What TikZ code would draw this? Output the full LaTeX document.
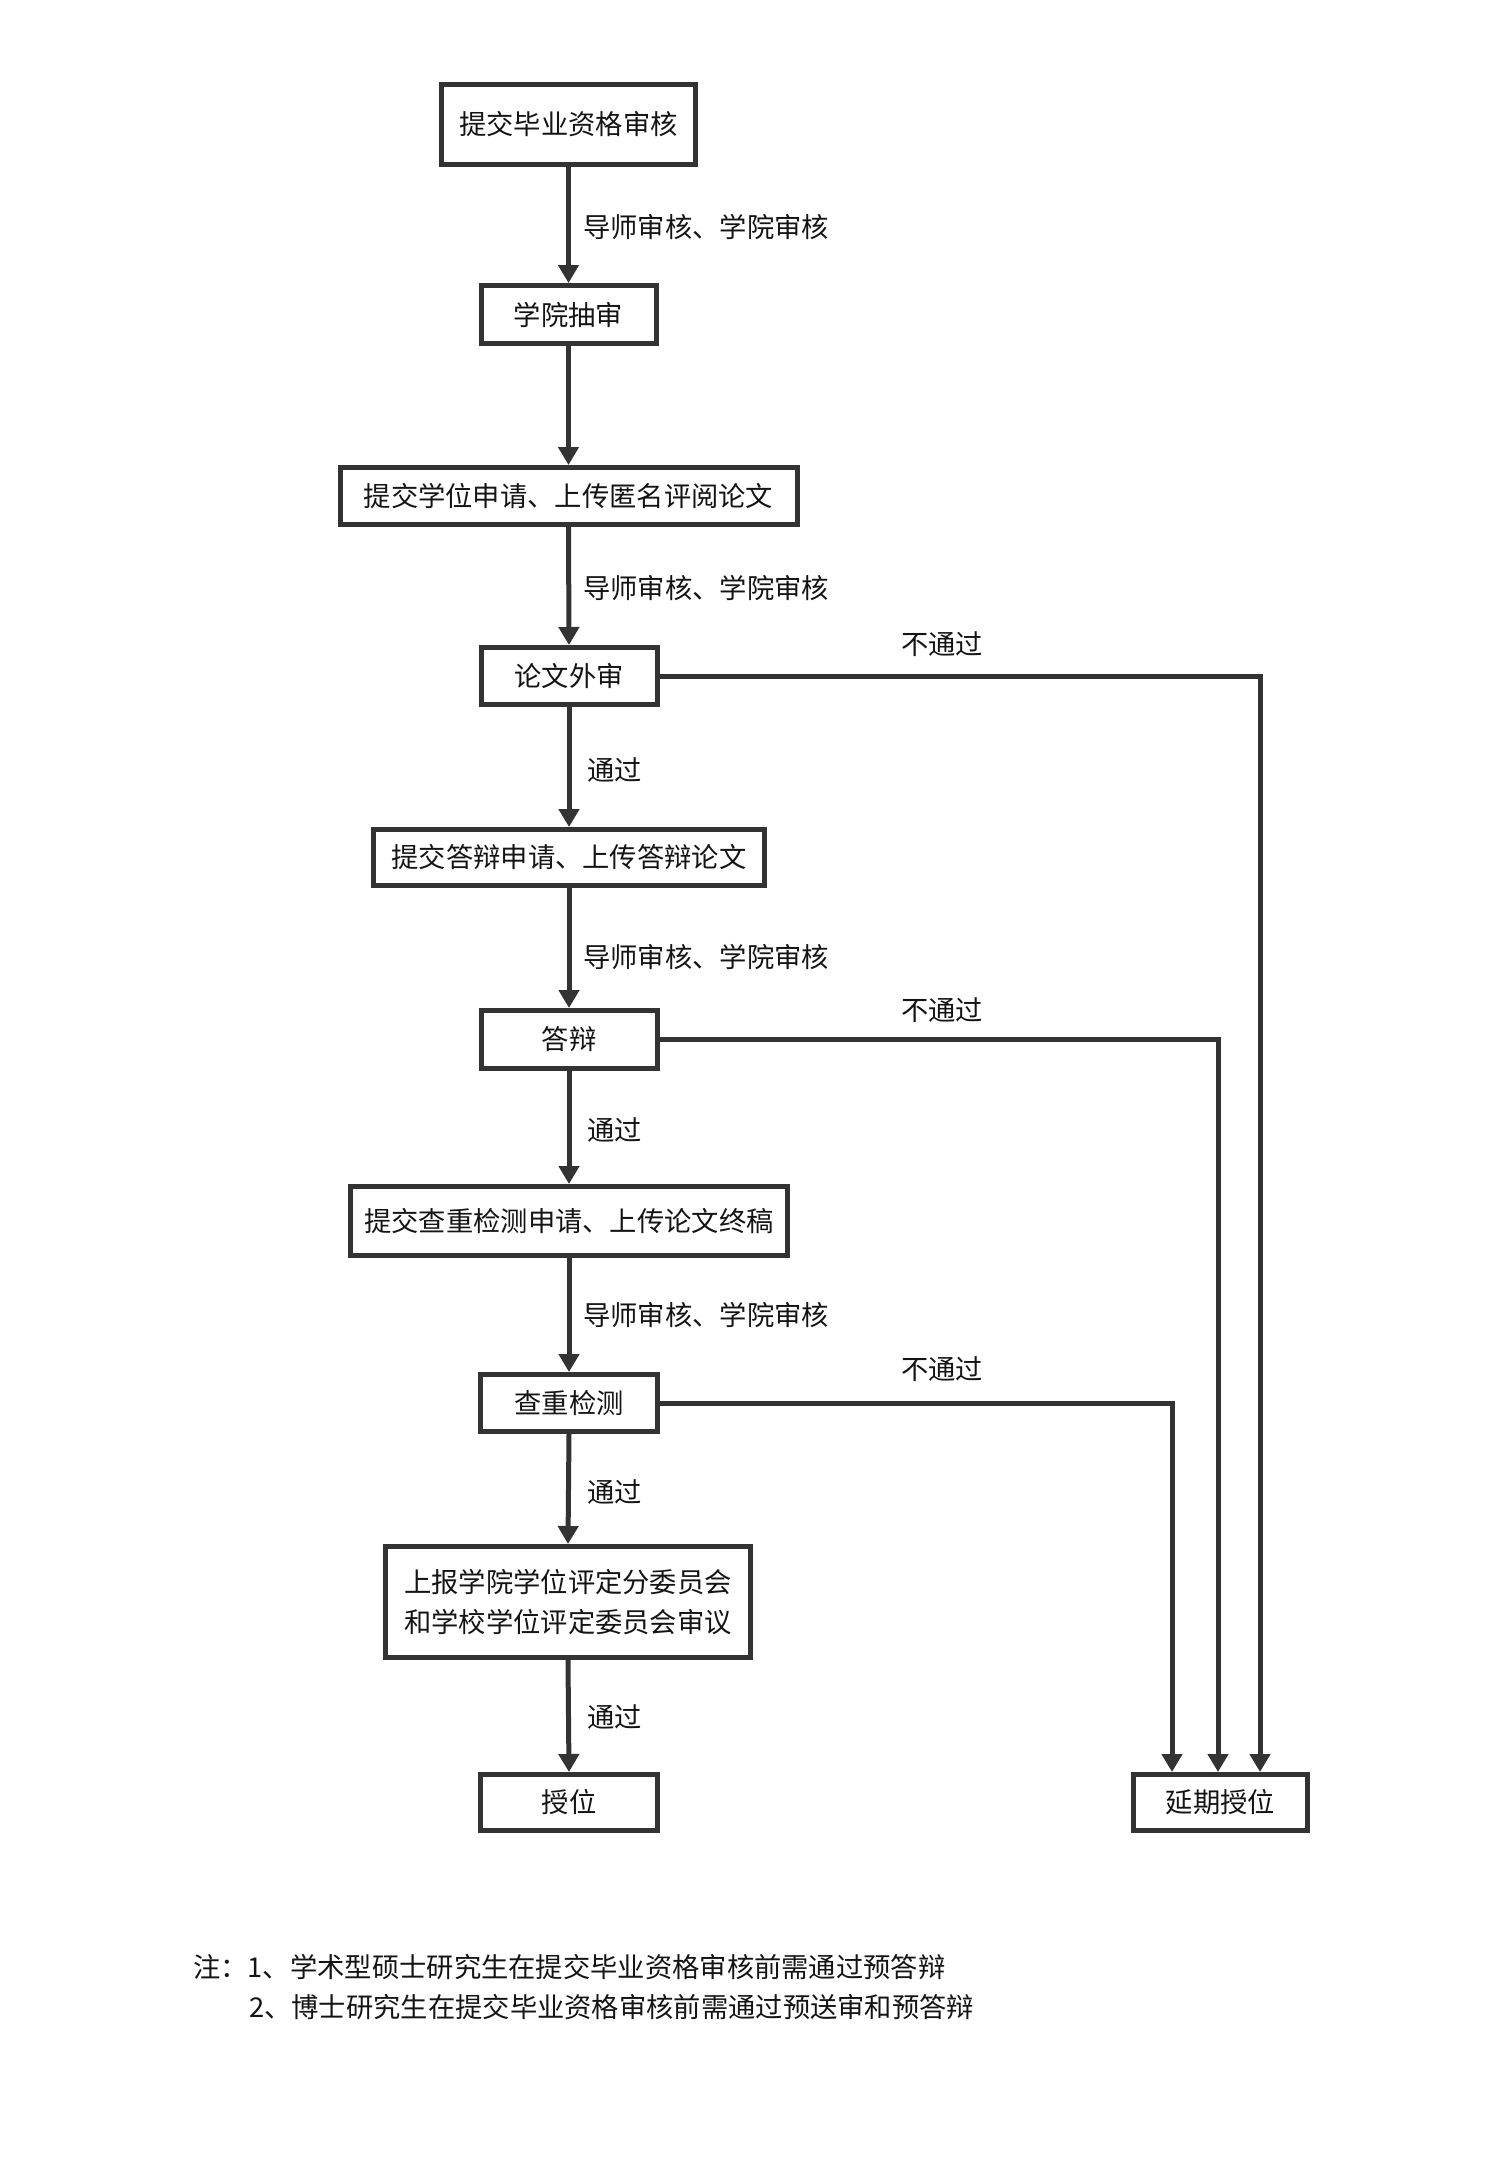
\documentclass[tikz,border=0pt]{standalone}
\usepackage{fontspec}
\setmainfont{Noto Sans CJK SC}
\usetikzlibrary{arrows.meta}
\definecolor{linec}{RGB}{51,51,51}
\definecolor{textc}{RGB}{20,20,20}
\tikzset{
  box/.style={draw=linec, line width=5pt, rectangle, inner sep=0pt, fill=white,
    text=textc, font=\fontsize{27.3pt}{40pt}\selectfont, align=center},
  flow/.style={draw=linec, line width=5pt, -{Triangle[length=18pt,width=20pt]}},
  lbl/.style={text=textc, font=\fontsize{27.3pt}{40pt}\selectfont, inner sep=0pt},
}
\begin{document}
\begin{tikzpicture}[x=1pt,y=-1pt]
\useasboundingbox (0,0) rectangle (1500,2164);
\fill[white] (0,0) rectangle (1500,2164);

\node[box, minimum width=254pt, minimum height=80pt] (b1) at (568.5,124.5) {提交毕业资格审核};
\node[box, minimum width=175pt, minimum height=58pt] (b2) at (568.5,314.5) {学院抽审};
\node[box, minimum width=457pt, minimum height=57pt] (b3) at (568.5,496) {提交学位申请、上传匿名评阅论文};
\node[box, minimum width=176pt, minimum height=57pt] (b4) at (569,676) {论文外审};
\node[box, minimum width=391pt, minimum height=56pt] (b5) at (569,857.5) {提交答辩申请、上传答辩论文};
\node[box, minimum width=176pt, minimum height=58pt] (b6) at (569,1039.5) {答辩};
\node[box, minimum width=437pt, minimum height=69pt] (b7) at (569,1221) {提交查重检测申请、上传论文终稿};
\node[box, minimum width=177pt, minimum height=57pt] (b8) at (569,1403) {查重检测};
\node[box, minimum width=365pt, minimum height=111pt] (b9) at (568,1602) {上报学院学位评定分委员会\\和学校学位评定委员会审议};
\node[box, minimum width=177pt, minimum height=56pt] (b10) at (569,1802.5) {授位};
\node[box, minimum width=174pt, minimum height=56pt] (b11) at (1220.5,1802.5) {延期授位};

\draw[flow] (b1.south) -- (b2.north);
\draw[flow] (b2.south) -- (b3.north);
\draw[flow] (b3.south) -- (b4.north);
\draw[flow] (b4.south) -- (b5.north);
\draw[flow] (b5.south) -- (b6.north);
\draw[flow] (b6.south) -- (b7.north);
\draw[flow] (b7.south) -- (b8.north);
\draw[flow] (b8.south) -- (b9.north);
\draw[flow] (b9.south) -- (b10.north);

\draw[flow] (b4.east) -| ([xshift=39.5pt]b11.north);
\draw[flow] (b6.east) -| ([xshift=-2.5pt]b11.north);
\draw[flow] (b8.east) -| ([xshift=-48.5pt]b11.north);

\node[lbl, anchor=west] (l1) at (583,227) {导师审核、学院审核};
\node[lbl, anchor=west] (l2) at (583,588) {导师审核、学院审核};
\node[lbl, anchor=west] (l3) at (583,957) {导师审核、学院审核};
\node[lbl, anchor=west] (l4) at (583,1315) {导师审核、学院审核};
\node[lbl, anchor=west] (p1) at (587,770) {通过};
\node[lbl, anchor=west] (p2) at (587,1130) {通过};
\node[lbl, anchor=west] (p3) at (587,1492) {通过};
\node[lbl, anchor=west] (p4) at (587,1717) {通过};
\node[lbl] (n1) at (942,644) {不通过};
\node[lbl] (n2) at (942,1010) {不通过};
\node[lbl] (n3) at (942,1369) {不通过};

\node[lbl, anchor=west] (note1) at (193,1967) {注：1、学术型硕士研究生在提交毕业资格审核前需通过预答辩};
\node[lbl, anchor=west] (note2) at (249,2007) {2、博士研究生在提交毕业资格审核前需通过预送审和预答辩};
\end{tikzpicture}
\end{document}
